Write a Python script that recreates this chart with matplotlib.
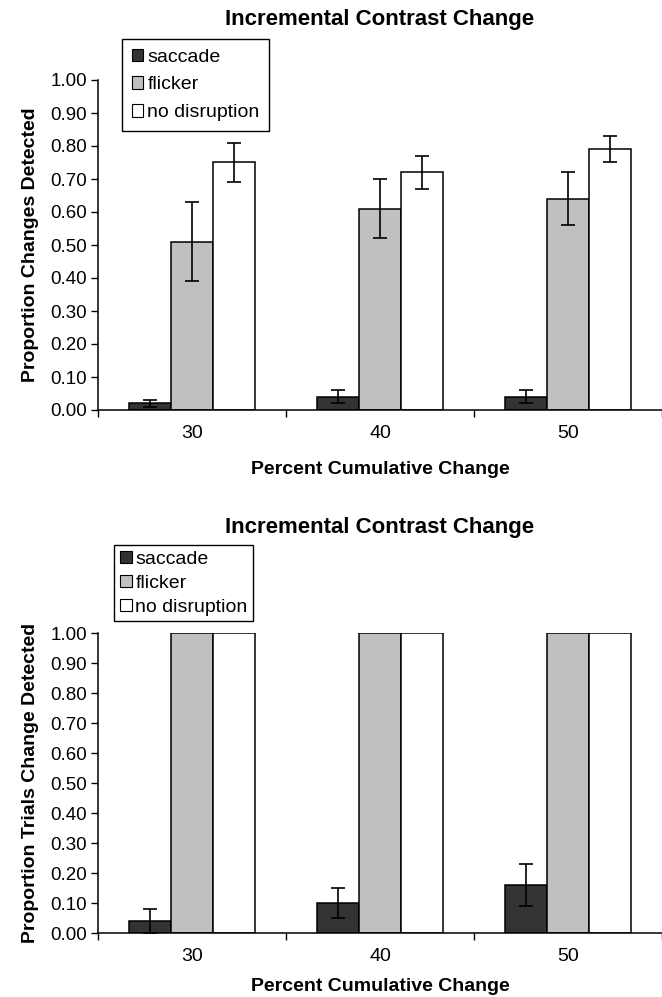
import numpy as np
import matplotlib
matplotlib.use("Agg")
import matplotlib.pyplot as plt
from matplotlib.patches import Patch

plt.rcParams['font.family'] = ['Liberation Sans', 'DejaVu Sans']

categories = ['30', '40', '50']
series = ['saccade', 'flicker', 'no disruption']
colors = ['#333333', '#c0c0c0', '#ffffff']

# top panel: proportion of changes detected (mean, error)
top_saccade = [0.02, 0.04, 0.04]
top_flicker = [0.51, 0.61, 0.64]
top_none = [0.75, 0.72, 0.79]
top_saccade_err = [0.01, 0.02, 0.02]
top_flicker_err = [0.12, 0.09, 0.08]
top_none_err = [0.06, 0.05, 0.04]

# bottom panel: proportion of trials where change detected
bot_saccade = [0.04, 0.10, 0.16]
bot_flicker = [1.00, 1.00, 1.00]
bot_none = [1.00, 1.00, 1.00]
bot_saccade_err = [0.04, 0.05, 0.07]

W, H = 662, 997
fig = plt.figure(figsize=(W / 100, H / 100), dpi=100)


def fx(px):
    return px / W


def fy(py):
    return 1 - py / H


def panel(rect, values, errors, ylabel, title, title_y, xlabel_y, legend_pos, lpad, lspace):
    left, top, right, bottom = rect
    ax = fig.add_axes([fx(left), fy(bottom), fx(right) - fx(left), fy(top) - fy(bottom)])
    x = np.arange(len(categories)) + 0.5
    w = 1 / 4.5
    for i, (vals, errs) in enumerate(zip(values, errors)):
        pos = x + (i - 1) * w
        ax.bar(pos, vals, w, color=colors[i], edgecolor='black', linewidth=1.1, zorder=2)
        if errs is not None:
            ax.errorbar(pos, vals, yerr=errs, fmt='none', ecolor='black',
                        elinewidth=1.2, capsize=5, capthick=1.2, zorder=3)
    ax.set_xlim(0, 3)
    ax.set_ylim(0, 1)
    ax.set_yticks(np.arange(0, 1.01, 0.1))
    ax.set_yticklabels(['%.2f' % v for v in np.arange(0, 1.01, 0.1)])
    ax.set_xticks([0, 1, 2, 3])
    ax.set_xticklabels([])
    ax.set_xticks(x, minor=True)
    ax.set_xticklabels(categories, minor=True)
    ax.tick_params(axis='x', which='major', direction='out', length=5, width=1)
    ax.tick_params(axis='x', which='minor', length=0, pad=11, labelsize=14)
    ax.tick_params(axis='y', direction='out', length=5, width=1, pad=3, labelsize=13.5)
    for s in ['top', 'right']:
        ax.spines[s].set_visible(False)
    for s in ['left', 'bottom']:
        ax.spines[s].set_linewidth(1.1)
    ax.set_ylabel(ylabel, fontsize=14, fontweight='bold', labelpad=8)
    fig.text(fx((left + right) / 2), fy(title_y), title, ha='center', va='center',
             fontsize=16, fontweight='bold')
    fig.text(fx((left + right) / 2), fy(xlabel_y), 'Percent Cumulative Change',
             ha='center', va='center', fontsize=14, fontweight='bold')
    handles = [Patch(facecolor=c, edgecolor='black', linewidth=0.8) for c in colors]
    lx, ly = legend_pos
    ax.legend(handles, series, loc='upper left', bbox_to_anchor=(fx(lx), fy(ly)),
              bbox_transform=fig.transFigure, borderaxespad=0, fontsize=14,
              handlelength=0.6, handleheight=0.6, handletextpad=0.2,
              borderpad=lpad, labelspacing=lspace, fancybox=False,
              framealpha=1, edgecolor='black')
    ax.get_legend().get_frame().set_linewidth(1)
    return ax


panel((98, 80, 662, 410),
      [top_saccade, top_flicker, top_none],
      [top_saccade_err, top_flicker_err, top_none_err],
      'Proportion Changes Detected', 'Incremental Contrast Change', 19, 469,
      (122, 39), 0.5, 0.55)

panel((98, 633, 662, 933),
      [bot_saccade, bot_flicker, bot_none],
      [bot_saccade_err, None, None],
      'Proportion Trials Change Detected', 'Incremental Contrast Change', 527, 986,
      (114, 545), 0.3, 0.35)

fig.savefig('out.png', dpi=100)
